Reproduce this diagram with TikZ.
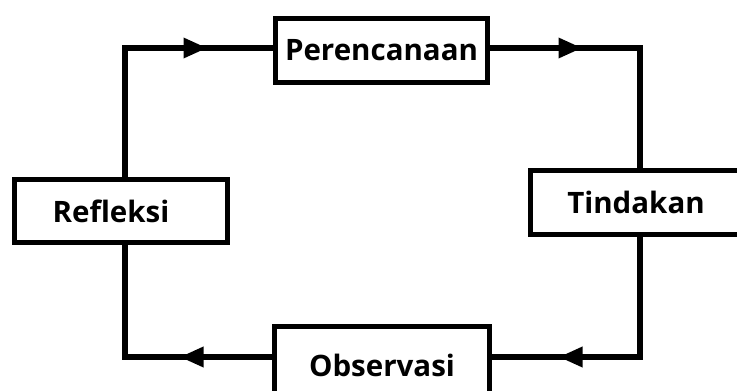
\documentclass[tikz,border=0pt]{standalone}
\usepackage{fontspec}
\setmainfont{Open Sans}
\usetikzlibrary{arrows.meta,decorations.markings}
\begin{document}
\begin{tikzpicture}[x=1pt,y=-1pt,
  box/.style={draw=black,line width=5pt,fill=white,inner sep=0pt,
    font=\fontsize{29.5}{33}\selectfont\bfseries},
  conn/.style={line width=6.5pt,line cap=rect},
  tipL/.style={decoration={markings,mark=at position #1 with {\arrow{Triangle[length=24pt,width=19pt]}}},postaction={decorate}}
]
\useasboundingbox (0,0) rectangle (737,391);
\fill[white] (0,0) rectangle (737,391);
\node[box,minimum width=212pt,minimum height=64pt] (per) at (381.5,50.5) {Perencanaan};
\node[box,minimum width=213pt,minimum height=63pt] (refl) at (121,211) {Refleksi\hbox to 20pt{}};
\node[box,minimum width=211pt,minimum height=64pt] (tind) at (636,202.5) {Tindakan};
\node[box,minimum width=215pt,minimum height=77pt] (obs) at (382,365) {Observasi};
\coordinate (tl) at (125,48);
\coordinate (tr) at (640,48);
\coordinate (br) at (640,357);
\coordinate (bl) at (125,357);
\draw[conn,tipL=211.5pt] (refl.north -| tl) -- (tl) -- (tl -| per.west);
\draw[conn,tipL=92.5pt] (per.east |- tr) -- (tr) -- (tr |- tind.north);
\draw[conn,tipL=201.5pt] (tind.south -| br) -- (br) -- (br -| obs.east);
\draw[conn,tipL=92.5pt] (obs.west |- bl) -- (bl) -- (bl |- refl.south);
\end{tikzpicture}
\end{document}
